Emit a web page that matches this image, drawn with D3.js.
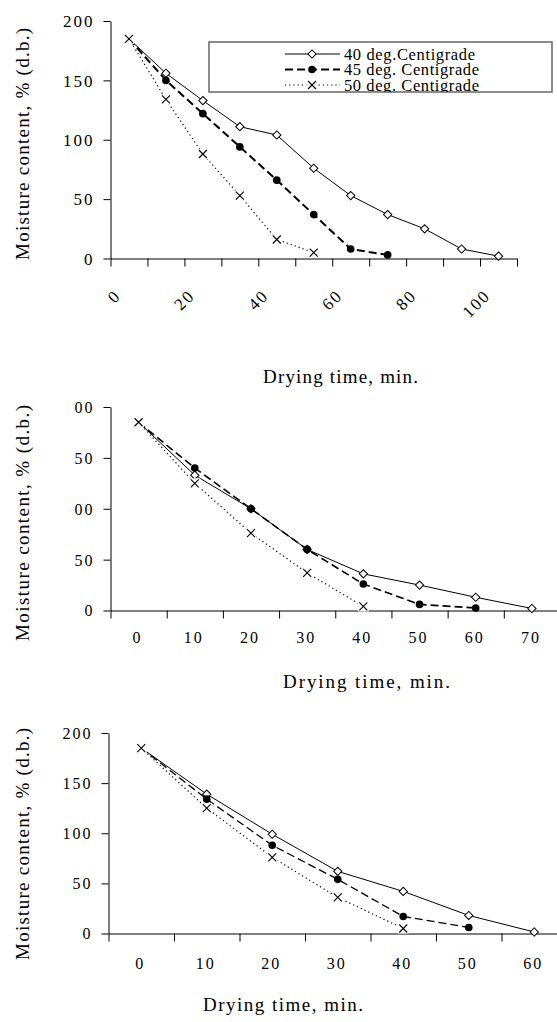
<!DOCTYPE html>
<html><head><meta charset="utf-8">
<script src="https://cdn.jsdelivr.net/npm/d3@7"></script>
<style>
body{margin:0;background:#fff}
</style></head><body>
<svg width="557" height="1022"></svg>
<script>
var svg = d3.select("svg");
var FONT = "Liberation Serif";

var seriesNames = ["40 deg.Centigrade", "45 deg. Centigrade", "50 deg. Centigrade"];
var yTicks = [0, 50, 100, 150, 200];

// top chart
var times1 = [0, 10, 20, 30, 40, 50, 60, 70, 80, 90, 100];
var top40 = [185, 156, 133, 111, 104, 76, 53, 37, 25, 8, 2];
var top45 = [185, 150, 122, 94, 66, 37, 8, 3];
var top50 = [185, 134, 88, 53, 16, 5];

// middle chart
var times2 = [0, 10, 20, 30, 40, 50, 60, 70];
var mid40 = [185, 133, 100, 60, 36, 25, 13, 2];
var mid45 = [185, 140, 100, 60, 26, 6, 2.5];
var mid50 = [185, 125, 76, 37, 4];

// bottom chart
var times3 = [0, 10, 20, 30, 40, 50, 60];
var bot40 = [185, 139, 99, 62, 42, 18, 1.5];
var bot45 = [185, 134, 88, 54, 17, 6];
var bot50 = [185, 125, 76, 36, 5];

var styles = [
    {dash: null, width: 1, marker: "diamond"},
    {dash: "8,4", width: 1.6, marker: "dot"},
    {dash: "1.2,3", width: 1.2, marker: "x"}
];

function drawChart(cfg, times, data) {
    var g = svg.append("g");
    var n = times.length;
    var x = d3.scaleLinear().domain([0, n]).range([cfg.x0, cfg.x1]);
    var y = d3.scaleLinear().domain([0, 200]).range([cfg.yb, cfg.yt]);

    // y axis
    var ya = g.append("g")
        .attr("transform", "translate(" + cfg.x0 + ",0)")
        .call(d3.axisLeft(y).tickValues(yTicks).tickSize(7).tickSizeOuter(0).tickPadding(9));
    ya.attr("font-family", FONT).attr("font-size", cfg.tickFont);
    ya.selectAll("text").style("letter-spacing", "2px").attr("dy", "0.34em");
    if (cfg.clipLeft) {
        // labels of this chart are cut on the left in the original
        svg.append("clipPath").attr("id", "clipy" + cfg.id)
            .append("rect").attr("x", cfg.clipLeft - cfg.x0).attr("y", cfg.yt - 20)
            .attr("width", 200).attr("height", cfg.yb - cfg.yt + 40);
        ya.attr("clip-path", "url(#clipy" + cfg.id + ")");
    }

    // x axis, ticks between categories
    g.append("g")
        .attr("transform", "translate(0," + cfg.yb + ")")
        .call(d3.axisBottom(x).tickValues(d3.range(n + 1)).tickSize(8).tickSizeOuter(0).tickFormat(""));

    // x labels at category centres
    var xl = g.append("g")
        .attr("transform", "translate(0," + cfg.yb + ")")
        .attr("font-family", FONT).attr("font-size", cfg.tickFont);
    var labelIdx = d3.range(n).filter(function (i) { return i % cfg.labelEvery === 0; });
    xl.selectAll("text").data(labelIdx).enter().append("text")
        .style("letter-spacing", "2px")
        .attr("text-anchor", cfg.rotate ? "end" : "middle")
        .attr("transform", function (i) {
            if (cfg.rotate) return "translate(" + (x(i + 0.5) - 7) + "," + cfg.labelDy + ") rotate(-45)";
            return "translate(" + (x(i + 0.5) - 1) + "," + cfg.labelDy + ")";
        })
        .text(function (i) { return times[i]; });

    // series
    var line = d3.line().x(function (d, i) { return x(i + 0.5); }).y(function (d) { return y(d); });
    data.forEach(function (vals, k) {
        var st = styles[k];
        g.append("path").datum(vals)
            .attr("d", line)
            .attr("fill", "none").attr("stroke", "#000")
            .attr("stroke-width", cfg.lineW ? cfg.lineW[k] : st.width)
            .attr("stroke-dasharray", st.dash);
        var m = g.append("g").selectAll("g").data(vals).enter().append("g")
            .attr("transform", function (d, i) { return "translate(" + x(i + 0.5) + "," + y(d) + ")"; });
        drawMarker(m, st.marker);
    });

    // titles
    g.append("text")
        .attr("transform", "translate(" + cfg.ytX + "," + cfg.ytY + ") rotate(-90)")
        .attr("text-anchor", "middle")
        .attr("font-family", FONT).attr("font-size", cfg.titleFont)
        .attr("textLength", cfg.ytLen).attr("lengthAdjust", "spacing")
        .text("Moisture content, % (d.b.)");
    g.append("text")
        .attr("x", cfg.xtX).attr("y", cfg.xtY)
        .attr("font-family", FONT).attr("font-size", cfg.titleFont)
        .attr("textLength", cfg.xtLen).attr("lengthAdjust", "spacing")
        .text("Drying time, min.");

    g.selectAll(".domain, .tick line").attr("stroke", "#000").attr("stroke-width", 1);
    return g;
}

function drawMarker(sel, type) {
    if (type === "diamond") {
        sel.append("path").attr("d", d3.symbol(d3.symbolSquare, 34)())
            .attr("transform", "rotate(45)")
            .attr("fill", "#fff").attr("stroke", "#000").attr("stroke-width", 1);
    } else if (type === "dot") {
        sel.append("path").attr("d", d3.symbol(d3.symbolCircle, 46)())
            .attr("fill", "#000");
    } else {
        sel.append("rect").attr("x", -5.5).attr("y", -5).attr("width", 11).attr("height", 10).attr("fill", "#fff");
        sel.append("path").attr("d", "M-4,-4L4,4M-4,4L4,-4")
            .attr("stroke", "#000").attr("stroke-width", 1.1).attr("fill", "none");
    }
}

drawChart({id: 1, x0: 110.5, x1: 517, yb: 258.5, yt: 21, tickFont: 17, labelEvery: 2, rotate: true,
    labelDy: 38, ytX: 29, ytY: 144, ytLen: 232, xtX: 263, xtY: 383, xtLen: 155, titleFont: 19, lineW: [1, 2, 1.2]},
    times1, [top40, top45, top50]);

drawChart({id: 2, x0: 110.5, x1: 560, yb: 610.5, yt: 407, tickFont: 16, labelEvery: 1, rotate: false, clipLeft: 73,
    labelDy: 32, ytX: 29, ytY: 523, ytLen: 236, xtX: 283, xtY: 688, xtLen: 167, titleFont: 19},
    times2, [mid40, mid45, mid50]);

drawChart({id: 3, x0: 108.5, x1: 567, yb: 933.5, yt: 733, tickFont: 16, labelEvery: 1, rotate: false,
    labelDy: 35, ytX: 29, ytY: 844, ytLen: 232, xtX: 203, xtY: 1011, xtLen: 160, titleFont: 19, lineW: [1, 1.3, 1.2]},
    times3, [bot40, bot45, bot50]);

// legend in the top chart
svg.append("clipPath").attr("id", "legclip")
    .append("rect").attr("x", 209).attr("y", 42).attr("width", 343).attr("height", 50);
var leg = svg.append("g");
leg.append("rect").attr("x", 209).attr("y", 42).attr("width", 343).attr("height", 50)
    .attr("fill", "#fff").attr("stroke", "#666").attr("stroke-width", 1.5);
var legRows = leg.append("g").attr("clip-path", "url(#legclip)")
    .selectAll("g").data(seriesNames).enter().append("g")
    .attr("transform", function (d, i) { return "translate(0," + (54 + i * 15.5) + ")"; });
legRows.append("line").attr("x1", 285).attr("x2", 340)
    .attr("stroke", "#000")
    .attr("stroke-width", function (d, i) { return [1, 2, 1.2][i]; })
    .attr("stroke-dasharray", function (d, i) { return styles[i].dash; });
legRows.each(function (d, i) {
    var m = d3.select(this).append("g").attr("transform", "translate(312,0)");
    drawMarker(m, styles[i].marker);
});
legRows.append("text").attr("x", 344).attr("y", 5.5)
    .attr("font-family", FONT).attr("font-size", 16.5)
    .attr("textLength", function (d, i) { return [131, 135, 135][i]; })
    .attr("lengthAdjust", "spacing")
    .text(function (d) { return d; });
</script>
</body></html>
